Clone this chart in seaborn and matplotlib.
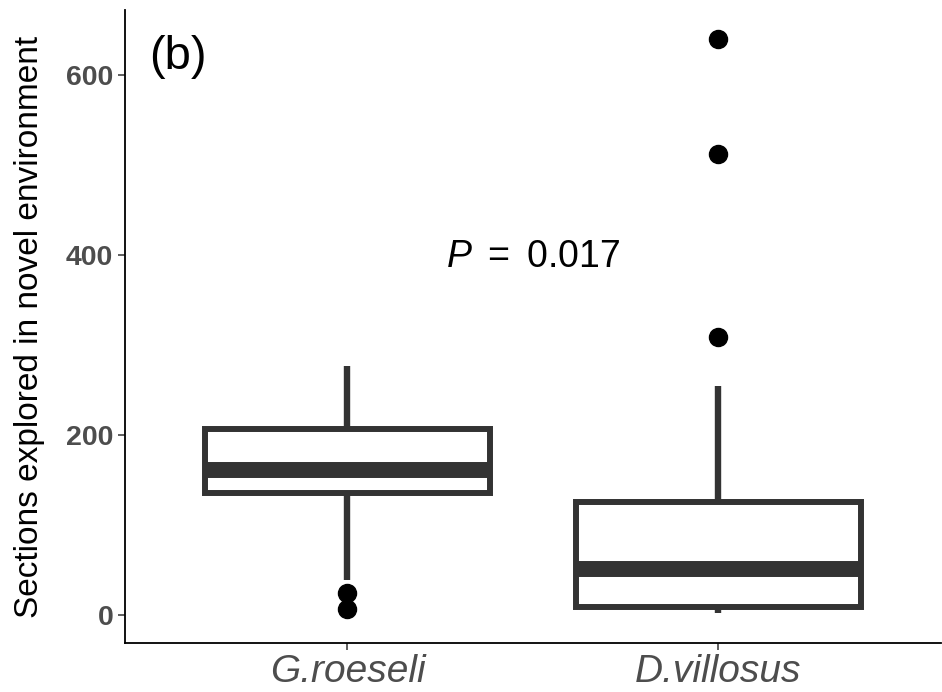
import numpy as np
import pandas as pd
import matplotlib
matplotlib.use("Agg")
import matplotlib.pyplot as plt
import seaborn as sns

# valores (cuartiles, bigotes y atipicos)
species = ["G.roeseli", "D.villosus"]
g_roeseli = [7, 24, 39, 90, 120, 136, 140, 148, 152, 157, 161,
             168, 175, 185, 195, 207, 212, 222, 240, 260, 277]
d_villosus = [2, 4, 6, 7, 8, 9, 15, 25, 35, 45, 51,
              60, 75, 90, 110, 126, 160, 254, 309, 512, 640]
y_ticks = [0, 200, 400, 600]
p_text = "$P\\ =\\ 0.017$"

df = pd.DataFrame({
    "species": [species[0]] * len(g_roeseli) + [species[1]] * len(d_villosus),
    "sections": g_roeseli + d_villosus,
})

sns.set_theme(style="ticks")
plt.rcParams["font.family"] = ["Liberation Sans", "DejaVu Sans"]
plt.rcParams["mathtext.fontset"] = "custom"
plt.rcParams["mathtext.it"] = "Liberation Sans:italic"
plt.rcParams["mathtext.rm"] = "Liberation Sans"
plt.rcParams["text.color"] = "black"

fig = plt.figure(figsize=(9.42, 6.92), dpi=100)
ax = fig.add_axes([0.1327, 0.0708, 0.866, 0.9147])

grey = "#333333"
sns.boxplot(data=df, x="species", y="sections", order=species, ax=ax,
            width=0.77, whis=1.5, color="white",
            boxprops=dict(facecolor="white", edgecolor=grey, linewidth=4.3),
            whiskerprops=dict(color=grey, linewidth=4.6),
            capprops=dict(linewidth=0),
            medianprops=dict(color=grey, linewidth=11.5, solid_capstyle="butt"),
            flierprops=dict(marker="o", markerfacecolor="black",
                            markeredgecolor="black", markersize=13))

ax.set_xlim(-0.6, 1.6)
ax.set_ylim(-31, 672)
ax.set_yticks(y_ticks)
ax.set_xlabel("")
ax.set_ylabel("Sections explored in novel environment", fontsize=24,
              color="black", labelpad=15)

for s in ["top", "right"]:
    ax.spines[s].set_visible(False)
for s in ["left", "bottom"]:
    ax.spines[s].set_color("black")
    ax.spines[s].set_linewidth(1.3)

ax.tick_params(axis="both", length=5, width=1.1, color="#333333")
ax.tick_params(axis="x", pad=3)
for lab in ax.get_yticklabels():
    lab.set_fontsize(20.5)
    lab.set_fontweight("bold")
    lab.set_color("#4D4D4D")
for lab in ax.get_xticklabels():
    lab.set_fontsize(28)
    lab.set_fontstyle("italic")
    lab.set_color("#4D4D4D")

ax.text(0.5, 398, p_text, fontsize=27, ha="center", va="center", color="black")
ax.text(0.03, 0.96, "(b)", transform=ax.transAxes, fontsize=34,
        ha="left", va="top", color="black")

fig.savefig("out.png", dpi=100)
